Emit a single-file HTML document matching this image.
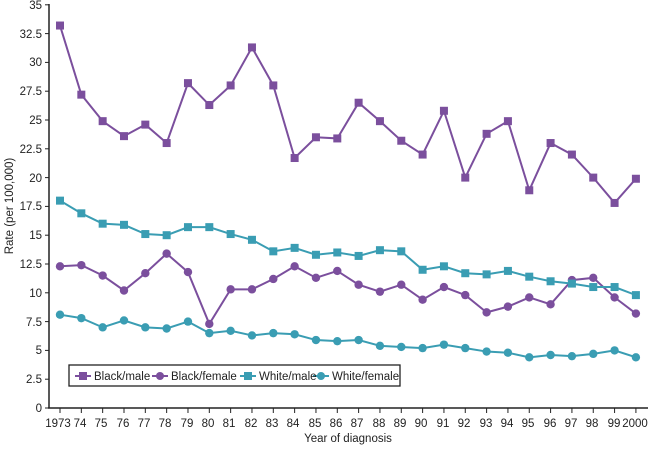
<!DOCTYPE html>
<html><head><meta charset="utf-8"><style>
body{margin:0;background:#fff}
text{font-family:"Liberation Sans",sans-serif;font-size:11.5px;fill:#222}
</style></head><body>
<svg id="s" width="650" height="445" xmlns="http://www.w3.org/2000/svg">
<g text-anchor="end">
<text x="42" y="412">0</text><text x="42" y="383">2.5</text><text x="42" y="354">5</text><text x="42" y="326">7.5</text>
<text x="42" y="297">10</text><text x="42" y="268">12.5</text><text x="42" y="239">15</text><text x="42" y="210">17.5</text>
<text x="42" y="182">20</text><text x="42" y="153">22.5</text><text x="42" y="124">25</text><text x="42" y="95">27.5</text>
<text x="42" y="66">30</text><text x="42" y="38">32.5</text><text x="42" y="9">35</text>
</g>
<text transform="translate(13,206) rotate(-90)" text-anchor="middle">Rate (per 100,000)</text>
<g id="xl" text-anchor="middle">
<text x="58" y="427">1973</text><text x="80" y="427">74</text><text x="101" y="427">75</text><text x="123" y="427">76</text><text x="144" y="427">77</text><text x="165" y="427">78</text><text x="187" y="427">79</text><text x="208" y="427">80</text><text x="229" y="427">81</text><text x="251" y="427">82</text><text x="272" y="427">83</text><text x="293" y="427">84</text><text x="315" y="427">85</text><text x="336" y="427">86</text><text x="357" y="427">87</text><text x="379" y="427">88</text><text x="400" y="427">89</text><text x="421" y="427">90</text><text x="443" y="427">91</text><text x="464" y="427">92</text><text x="486" y="427">93</text><text x="507" y="427">94</text><text x="528" y="427">95</text><text x="550" y="427">96</text><text x="571" y="427">97</text><text x="592" y="427">98</text><text x="614" y="427">99</text><text x="635" y="427">2000</text>
</g>
<text x="348" y="442" text-anchor="middle">Year of diagnosis</text>
<line x1="49" y1="4" x2="49" y2="408" stroke="#222" stroke-width="1.5"/>
<line x1="48" y1="408" x2="648" y2="408" stroke="#222" stroke-width="1.5"/>
<g id="t" stroke="#222" stroke-width="1"></g>
<g id="d"></g>
<rect x="69" y="365" width="331" height="21" fill="#fff" stroke="#222" stroke-width="1.3"/>
<g stroke-width="2">
<line x1="75" y1="376" x2="91" y2="376" stroke="#7b4f9d"/><rect x="79" y="372" width="8" height="8" fill="#7b4f9d"/>
<line x1="152" y1="376" x2="168" y2="376" stroke="#7b4f9d"/><circle cx="160" cy="376" r="4" fill="#7b4f9d"/>
<line x1="240" y1="376" x2="256" y2="376" stroke="#3a9db3"/><rect x="244" y="372" width="8" height="8" fill="#3a9db3"/>
<line x1="313" y1="376" x2="329" y2="376" stroke="#3a9db3"/><circle cx="321" cy="376" r="4" fill="#3a9db3"/>
</g>
<text x="94" y="380">Black/male</text><text x="171" y="380">Black/female</text><text x="259" y="380">White/male</text><text x="332" y="380">White/female</text>
</svg>
<script>
var S=[
["#7b4f9d",1,[33.2,27.2,24.9,23.6,24.6,23.0,28.2,26.3,28.0,31.3,28.0,21.7,23.5,23.4,26.5,24.9,23.2,22.0,25.8,20.0,23.8,24.9,18.9,23.0,22.0,20.0,17.8,19.9]],
["#7b4f9d",0,[12.3,12.4,11.5,10.2,11.7,13.4,11.8,7.3,10.3,10.3,11.2,12.3,11.3,11.9,10.7,10.1,10.7,9.4,10.5,9.8,8.3,8.8,9.6,9.0,11.1,11.3,9.6,8.2]],
["#3a9db3",1,[18.0,16.9,16.0,15.9,15.1,15.0,15.7,15.7,15.1,14.6,13.6,13.9,13.3,13.5,13.2,13.7,13.6,12.0,12.3,11.7,11.6,11.9,11.4,11.0,10.8,10.5,10.5,9.8]],
["#3a9db3",0,[8.1,7.8,7.0,7.6,7.0,6.9,7.5,6.5,6.7,6.3,6.5,6.4,5.9,5.8,5.9,5.4,5.3,5.2,5.5,5.2,4.9,4.8,4.4,4.6,4.5,4.7,5.0,4.4]]];
var h='';
S.forEach(function(s){var p=s[2].map(function(v,i){return [60+i*21.33,408-v*11.52]});
h+='<polyline fill="none" stroke="'+s[0]+'" stroke-width="2" points="'+p.map(function(q){return q.join(',')}).join(' ')+'"/>';
p.forEach(function(q){h+=s[1]?'<rect x="'+(q[0]-4)+'" y="'+(q[1]-4)+'" width="8" height="8" fill="'+s[0]+'"/>':'<circle cx="'+q[0]+'" cy="'+q[1]+'" r="4.2" fill="'+s[0]+'"/>';});});
document.getElementById('d').innerHTML=h;
var t='';for(var i=0;i<28;i++){var x=60+i*21.33;t+='<line x1="'+x+'" y1="408" x2="'+x+'" y2="413"/>';}
for(var j=0;j<=14;j++){var y=408-j*28.8;t+='<line x1="45" y1="'+y+'" x2="49" y2="'+y+'"/>';}
document.getElementById('t').innerHTML=t;
</script>
</body></html>
